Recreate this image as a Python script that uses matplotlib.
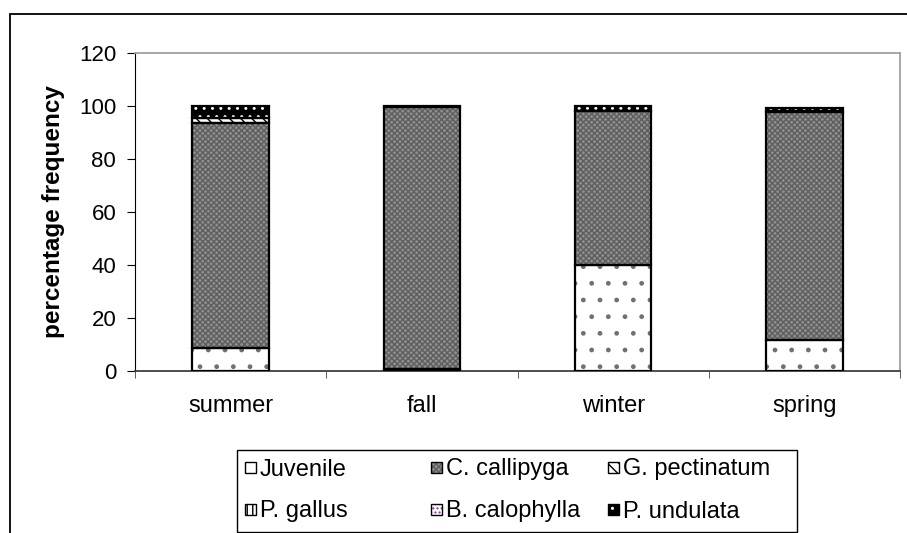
import matplotlib
matplotlib.use("Agg")
import matplotlib.pyplot as plt
from matplotlib.patches import Rectangle
import numpy as np

plt.rcParams['font.family'] = ['Liberation Sans', 'DejaVu Sans']
plt.rcParams['hatch.linewidth'] = 1.0

seasons = ["summer", "fall", "winter", "spring"]
species = ["Juvenile", "C. callipyga", "G. pectinatum", "P. gallus", "B. calophylla", "P. undulata"]
juvenile      = [8.7, 0.8, 40.0, 11.7]
c_callipyga   = [84.9, 98.7, 58.2, 86.2]
g_pectinatum  = [1.8, 0.0, 0.0, 0.0]
p_gallus      = [0.0, 0.0, 0.0, 0.0]
b_calophylla  = [0.0, 0.0, 0.0, 0.0]
p_undulata    = [4.6, 0.5, 1.8, 1.5]
series = [juvenile, c_callipyga, g_pectinatum, p_gallus, b_calophylla, p_undulata]

faces   = ["white", "#909090", "white", "white", "white", "black"]
hatches = [".", "xxxxxx", "\\\\\\", "|||", "....", ".."]
hcolors = ["#707070", "#5e5e5e", "black", "black", "#993399", "white"]
legend_hatches = ["", "xxxxxx", "\\\\\\", "|||", "....", ".."]
yticks = [0, 20, 40, 60, 80, 100, 120]

W, H = 907, 533
fig = plt.figure(figsize=(W/100, H/100), dpi=100)
ax = fig.add_axes([135/W, 1-371/H, (900-135)/W, (371-53)/H])

x = np.arange(len(seasons))
bottom = np.zeros(len(seasons))
width = 0.40
for vals, fc, h, hc in zip(series, faces, hatches, hcolors):
    vals = np.array(vals)
    mask = vals > 0
    if mask.any():
        ax.bar(x[mask], vals[mask], width, bottom=bottom[mask], color=fc,
               hatch=h, edgecolor=hc, linewidth=0, zorder=2)
        ax.bar(x[mask], vals[mask], width, bottom=bottom[mask], fill=False,
               edgecolor="black", linewidth=1.6, zorder=3)
    bottom += vals

ax.set_xlim(-0.5, 3.5)
ax.set_ylim(0, 120)
ax.set_yticks(yticks)
ax.set_yticklabels([str(v) for v in yticks], fontsize=16)
ax.set_xticks(x)
ax.set_xticklabels(seasons, fontsize=17)
ax.set_xticks(np.arange(-0.5, 4.0, 1.0), minor=True)
ax.tick_params(axis='x', which='major', length=0, pad=17)
ax.tick_params(axis='x', which='minor', length=5, direction='out', color='#404040')
ax.tick_params(axis='y', length=5.5, direction='out', pad=8)
ax.set_ylabel("percentage frequency", fontsize=17.5, fontweight='bold', labelpad=10)

ax.spines['left'].set_color('black')
ax.spines['bottom'].set_color('#404040')
ax.spines['bottom'].set_linewidth(1.3)
for s in ['top', 'right']:
    ax.spines[s].set_color('#a0a0a0')
    ax.spines[s].set_linewidth(1.3)

# legend box, drawn as a grid of swatches and texts (Excel-style equal columns)
def fx(px): return px / W
def fy(py): return 1 - py / H

fig.patches.append(Rectangle((fx(237), fy(532)), fx(797) - fx(237), fy(450) - fy(532),
                             transform=fig.transFigure, facecolor='white',
                             edgecolor='black', linewidth=1.0, zorder=5))
col_x = [245, 431, 608]
row_y = [467, 509]
sw = 11
for i, (name, fc, h, hc) in enumerate(zip(species, faces, legend_hatches, hcolors)):
    r, c = divmod(i, 3)
    x0, yc = col_x[c], row_y[r]
    fig.patches.append(Rectangle((fx(x0), fy(yc + sw/2)), sw/W, sw/H, transform=fig.transFigure,
                                 facecolor=fc, hatch=h, edgecolor=hc, linewidth=0, zorder=6))
    fig.patches.append(Rectangle((fx(x0), fy(yc + sw/2)), sw/W, sw/H, transform=fig.transFigure,
                                 fill=False, edgecolor='black', linewidth=1.0, zorder=7))
    fig.text(fx(x0 + sw + 4), fy(yc), name, fontsize=17, ha='left', va='center_baseline', zorder=8)

fig.patches.append(Rectangle((10/W, -0.05), 1.2, 1.05 - 14/H, transform=fig.transFigure,
                             fill=False, edgecolor='black', linewidth=1.3))

fig.savefig("out.png", dpi=100)
